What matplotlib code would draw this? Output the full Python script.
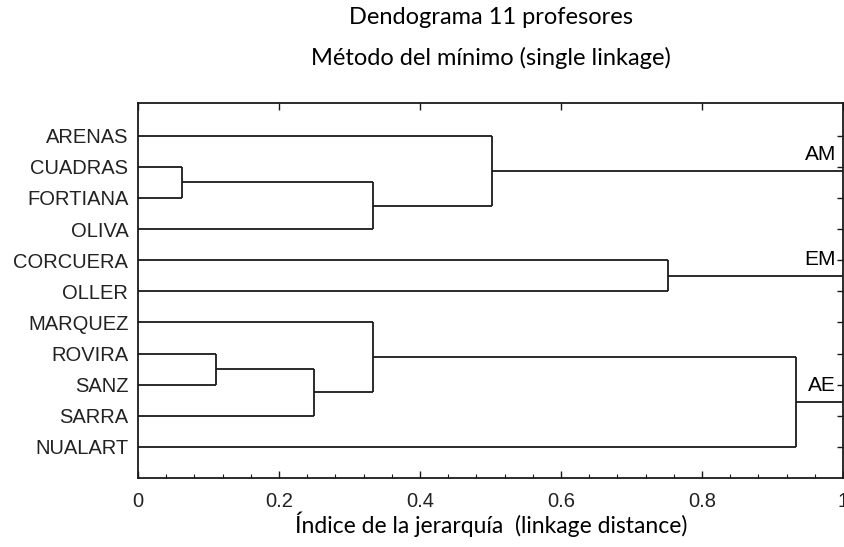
import matplotlib
matplotlib.use("Agg")
import matplotlib.pyplot as plt
from matplotlib.ticker import MultipleLocator

# ---- data ----
labels = ["ARENAS", "CUADRAS", "FORTIANA", "OLIVA", "CORCUERA", "OLLER",
          "MARQUEZ", "ROVIRA", "SANZ", "SARRA", "NUALART"]
# merges: cluster ids 0..10 are leaves, new clusters numbered from 11
merge_a = [1, 7, 12, 11, 6, 0, 4, 15]
merge_b = [2, 8, 9, 3, 13, 14, 5, 10]
merge_h = [0.063, 0.111, 0.250, 0.334, 0.334, 0.502, 0.752, 0.934]
group_ids = [16, 17, 18]
group_names = ["AM", "EM", "AE"]
xticks = [0, 0.2, 0.4, 0.6, 0.8, 1]
xtick_labels = ["0", "0.2", "0.4", "0.6", "0.8", "1"]

title1 = "Dendograma 11 profesores"
title2 = "Método del mínimo (single linkage)"
xlabel = "Índice de la jerarquía  (linkage distance)"

# ---- figure ----
fig = plt.figure(figsize=(8.44, 5.47), dpi=100)
ax = fig.add_axes([138 / 844, 1 - 478 / 547, (843 - 138) / 844, (478 - 103) / 547])
lc = "#1a1a1a"
lw = 1.3

pos = {i: float(i) for i in range(len(labels))}
hgt = {i: 0.0 for i in range(len(labels))}
nid = len(labels)
for a, b, h in zip(merge_a, merge_b, merge_h):
    ax.plot([hgt[a], h], [pos[a], pos[a]], color=lc, lw=lw, solid_capstyle="butt")
    ax.plot([hgt[b], h], [pos[b], pos[b]], color=lc, lw=lw, solid_capstyle="butt")
    ax.plot([h, h], [pos[a], pos[b]], color=lc, lw=lw, solid_capstyle="butt")
    pos[nid] = (pos[a] + pos[b]) / 2
    hgt[nid] = h
    nid += 1

for g, name in zip(group_ids, group_names):
    ax.plot([hgt[g], 1.0], [pos[g], pos[g]], color=lc, lw=lw, solid_capstyle="butt")
    ax.annotate(name, xy=(0.99, pos[g]), xytext=(0, 5), textcoords="offset points",
                ha="right", va="bottom", fontsize=15, family="Liberation Sans", color="black")

ax.set_xlim(0, 1)
ax.set_ylim(len(labels), -1.05)
ax.set_yticks(range(len(labels)))
ax.set_yticklabels(labels, family="Liberation Sans", fontsize=14.5, color="#222222")
ax.set_xticks(xticks)
ax.set_xticklabels(xtick_labels, family="Liberation Sans", fontsize=14.5, color="#222222")
ax.xaxis.set_minor_locator(MultipleLocator(0.04))
ax.tick_params(axis="y", left=False, right=True, direction="in", length=4, width=1,
               pad=7, color=lc)
ax.tick_params(axis="x", which="major", bottom=True, top=True, direction="in",
               length=5, width=1, pad=10, color=lc)
ax.tick_params(axis="x", which="minor", bottom=True, top=False, direction="in",
               length=3, width=0.8, color=lc)
for s in ax.spines.values():
    s.set_color(lc)
    s.set_linewidth(1.3)

cx = 491 / 844
fig.text(cx, 1 - 24 / 547, title1, ha="center", va="baseline", fontsize=17, family="Lato")
fig.text(cx, 1 - 65 / 547, title2, ha="center", va="baseline", fontsize=17, family="Lato")
fig.text(cx, 1 - 533 / 547, xlabel, ha="center", va="baseline", fontsize=16.5, family="Lato")

fig.savefig("out.png", dpi=100)
